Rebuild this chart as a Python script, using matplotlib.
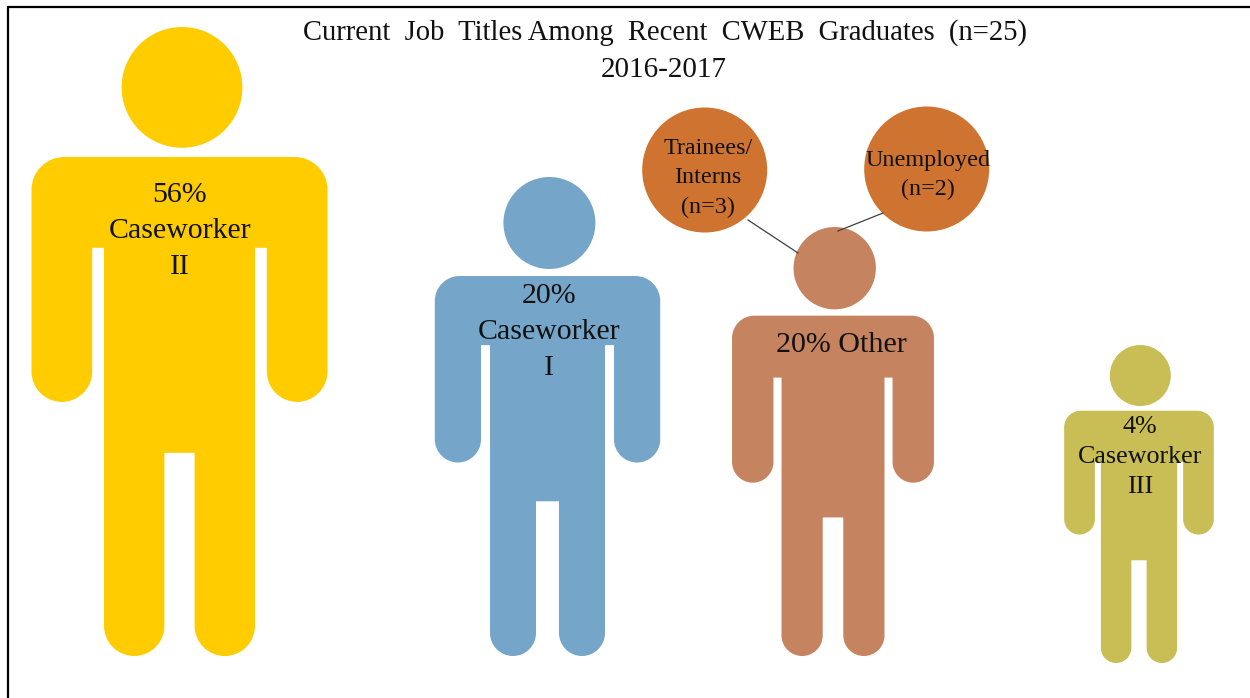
import matplotlib
matplotlib.use("Agg")
import matplotlib.pyplot as plt
from matplotlib.patches import Circle, PathPatch
from matplotlib.path import Path

# =========================================================
# DATA
# =========================================================

TITLE_LINES = ["Current  Job  Titles Among  Recent  CWEB  Graduates  (n=25)", "2016-2017"]

PERCENTS = [56, 20, 20, 4]
JOB_LABELS = ["Caseworker\nII", "Caseworker\nI", "Other", "Caseworker\nIII"]
SUB_LABELS = ["Trainees/\nInterns\n(n=3)", "Unemployed\n(n=2)"]

# =========================================================
# LAYOUT (pixels of the 1250x698 picture)
# =========================================================

COLORS = ["#FFCC00", "#75A5C9", "#C5835F", "#C9BD55"]
SUB_COLOR = "#CF7430"
CENTER_X = [179.5, 547.5, 833, 1139]
BOTTOM_Y = [656, 656, 656, 663]
HEIGHTS = [629, 479, 429, 318]
ARMPITS = [0.351, 0.351, 0.351, 0.368]
LABEL_XY = [(180, 231), (549, 332), (841, 345), (1140, 457)]
LABEL_SIZE = [21.5, 21.5, 21.6, 18.7]
LABEL_SPACING = [1.52, 1.52, 1.4, 1.49]
SUB_XY = [(704.7, 170), (926.7, 169)]
SUB_TEXT_XY = [(708, 178), (928, 175)]
SUB_R = 62.5
LINKS = [((748, 220), (798, 253)), ((883, 213), (838, 231))]


def person_path(cx, bottom, h, armpit):
    # stick figure body, built from a unit shape scaled by the height
    top = bottom - h
    X = lambda u: cx + u * h
    Y = lambda v: top + v * h
    shoulder, body, gap = 0.2353, 0.12, 0.024
    arm_r = 0.0965 / 2
    leg_r = (body - gap) / 2
    corner = 0.052
    collar = 0.2067
    k = 0.5523

    verts = [(X(-shoulder), Y(collar + corner))]
    codes = [Path.MOVETO]

    def line(u, v):
        verts.append((X(u), Y(v)))
        codes.append(Path.LINETO)

    def curve(u1, v1, u2, v2, u3, v3):
        verts.extend([(X(u1), Y(v1)), (X(u2), Y(v2)), (X(u3), Y(v3))])
        codes.extend([Path.CURVE4] * 3)

    def limb_end(right, r, v):
        # half circle closing an arm or a leg, walked right to left
        m = right - r
        curve(right, v + k * r, m + k * r, v + r, m, v + r)
        curve(m - k * r, v + r, m - r, v + k * r, m - r, v)

    c = corner * (1 - k)
    curve(-shoulder, collar + c, -shoulder + c, collar, -shoulder + corner, collar)
    line(shoulder - corner, collar)
    curve(shoulder - c, collar, shoulder, collar + c, shoulder, collar + corner)

    arm_v = 0.596 - arm_r
    leg_v = 1 - leg_r
    crotch = 0.677

    line(shoulder, arm_v)
    limb_end(shoulder, arm_r, arm_v)
    line(shoulder - 2 * arm_r, armpit)
    line(body, armpit)
    line(body, leg_v)
    limb_end(body, leg_r, leg_v)
    line(gap, crotch)
    line(-gap, crotch)
    line(-gap, leg_v)
    limb_end(-gap, leg_r, leg_v)
    line(-body, armpit)
    line(-shoulder + 2 * arm_r, armpit)
    line(-shoulder + 2 * arm_r, arm_v)
    limb_end(-shoulder + 2 * arm_r, arm_r, arm_v)
    verts.append(verts[0])
    codes.append(Path.CLOSEPOLY)
    return Path(verts, codes)


plt.rcParams["font.family"] = ["Liberation Serif", "DejaVu Serif"]

fig = plt.figure(figsize=(12.5, 6.98), dpi=100)
ax = fig.add_axes([0, 0, 1, 1])
ax.set_xlim(0, 1250)
ax.set_ylim(698, 0)
ax.axis("off")

# frame, only top and left are visible in the picture
ax.plot([8, 8, 1250], [698, 7, 7], color="black", linewidth=1.6, solid_joinstyle="miter")

for i, pct in enumerate(PERCENTS):
    h = HEIGHTS[i]
    top = BOTTOM_Y[i] - h
    ax.add_patch(PathPatch(person_path(CENTER_X[i], BOTTOM_Y[i], h, ARMPITS[i]),
                           facecolor=COLORS[i], edgecolor="none"))
    ax.add_patch(Circle((CENTER_X[i] + 0.004 * h, top + 0.096 * h), 0.096 * h,
                        facecolor=COLORS[i], edgecolor="none"))

    if JOB_LABELS[i] == "Other":
        text = f"{pct}% {JOB_LABELS[i]}"
    else:
        text = f"{pct}%\n{JOB_LABELS[i]}"
    ax.text(LABEL_XY[i][0], LABEL_XY[i][1], text, ha="center", va="center",
            fontsize=LABEL_SIZE[i], color="#111111", linespacing=LABEL_SPACING[i])

# the two sub groups of "Other"
for (x0, y0), (x1, y1) in LINKS:
    ax.plot([x0, x1], [y0, y1], color="#404040", linewidth=0.9)

for i, label in enumerate(SUB_LABELS):
    ax.add_patch(Circle(SUB_XY[i], SUB_R, facecolor=SUB_COLOR, edgecolor="none"))
    ax.text(SUB_TEXT_XY[i][0], SUB_TEXT_XY[i][1], label, ha="center", va="center",
            fontsize=17.4, color="#111111", linespacing=1.5)

ax.text(665, 33, TITLE_LINES[0], ha="center", va="center", fontsize=20.6, color="#111111")
ax.text(664, 70, TITLE_LINES[1], ha="center", va="center", fontsize=21, color="#111111")

fig.savefig("out.png", dpi=100)
